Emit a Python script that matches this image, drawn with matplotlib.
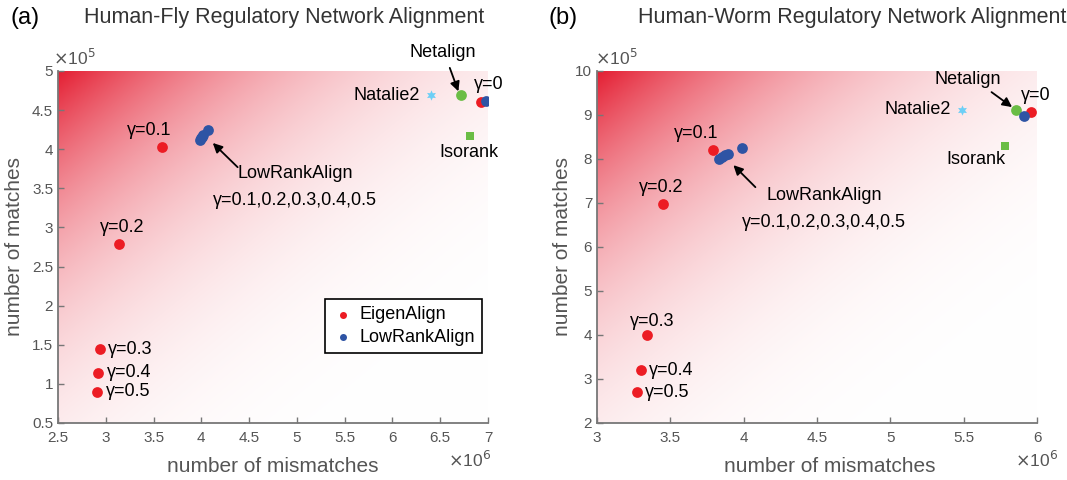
import numpy as np
import matplotlib
matplotlib.use('Agg')
import matplotlib.pyplot as plt
from matplotlib.ticker import FuncFormatter

plt.rcParams['font.family'] = ['Liberation Sans', 'DejaVu Sans']

# ---- data (mismatches in 1e6, matches in 1e5) ----
gammas = ['0', '0.1', '0.2', '0.3', '0.4', '0.5']

fly_eigen_x = [6.93, 3.59, 3.14, 2.94, 2.92, 2.91]
fly_eigen_y = [4.61, 4.03, 2.79, 1.44, 1.14, 0.90]
fly_lowrank_x = [6.98, 3.99, 4.00, 4.01, 4.02, 4.07]
fly_lowrank_y = [4.62, 4.12, 4.14, 4.16, 4.18, 4.25]
fly_netalign = (6.72, 4.69)
fly_natalie = (6.40, 4.69)
fly_isorank = (6.81, 4.17)

worm_eigen_x = [5.96, 3.79, 3.45, 3.34, 3.30, 3.27]
worm_eigen_y = [9.06, 8.21, 6.98, 4.00, 3.20, 2.70]
worm_lowrank_x = [5.91, 3.99, 3.83, 3.85, 3.87, 3.89]
worm_lowrank_y = [8.98, 8.25, 8.00, 8.04, 8.08, 8.12]
worm_netalign = (5.86, 9.12)
worm_natalie = (5.49, 9.12)
worm_isorank = (5.78, 8.30)

RED = '#ec1c24'
BLUE = '#2e54a4'
GREEN = '#6abd45'
CYAN = '#6dcff6'
GREY = '#555555'

W, H = 1067, 480
fig = plt.figure(figsize=(W / 100, H / 100), dpi=100)


def px(x0, y0, x1, y1):
    return [x0 / W, 1 - y1 / H, (x1 - x0) / W, (y1 - y0) / H]


def P(x, y):
    return (x * 1e6, y * 1e5)


def gradient(ax, xlim, ylim):
    n = 300
    xf, yf = np.meshgrid(np.linspace(0, 1, n), np.linspace(0, 1, n))
    d = xf + yf
    a = np.clip(1 - d / 2, 0, 1) ** 3.5
    img = np.ones((n, n, 3))
    red = np.array([228, 30, 50]) / 255.0
    for k in range(3):
        img[:, :, k] = 1 - a * (1 - red[k])
    ax.imshow(img, extent=(xlim[0], xlim[1], ylim[0], ylim[1]),
              aspect='auto', origin='upper', zorder=0, interpolation='bilinear')


def style(ax, xlim, ylim, xticks, yticks):
    ax.set_xlim(*xlim)
    ax.set_ylim(*ylim)
    ax.set_xticks([t * 1e6 for t in xticks])
    ax.set_yticks([t * 1e5 for t in yticks])
    ax.xaxis.set_major_formatter(FuncFormatter(lambda v, p: '%g' % round(v / 1e6, 2)))
    ax.yaxis.set_major_formatter(FuncFormatter(lambda v, p: '%g' % round(v / 1e5, 2)))
    for s in ['top', 'right']:
        ax.spines[s].set_visible(False)
    for s in ['left', 'bottom']:
        ax.spines[s].set_color('#777777')
        ax.spines[s].set_linewidth(1.3)
    ax.tick_params(direction='in', length=4, width=1, colors='#777777',
                   labelcolor=GREY, labelsize=11)
    ax.tick_params(axis='x', pad=6)


def panel(rect, xlim, ylim, xticks, yticks, ex, ey, lx, ly, net, nat, iso):
    ax = fig.add_axes(rect)
    xl = (xlim[0] * 1e6, xlim[1] * 1e6)
    yl = (ylim[0] * 1e5, ylim[1] * 1e5)
    gradient(ax, xl, yl)
    style(ax, xl, yl, xticks, yticks)
    ax.scatter([v * 1e6 for v in ex], [v * 1e5 for v in ey], s=60, color=RED,
               zorder=3, label='EigenAlign', linewidths=0)
    ax.scatter([v * 1e6 for v in lx], [v * 1e5 for v in ly], s=60, color=BLUE,
               zorder=4, label='LowRankAlign', linewidths=0)
    ax.scatter(*P(*net), s=60, color=GREEN, zorder=3, linewidths=0)
    ax.scatter(*P(*nat), s=55, color=CYAN, marker=(6, 1, 0), zorder=3, linewidths=0)
    ax.scatter(*P(*iso), s=30, color=GREEN, marker='s', zorder=3, linewidths=0)
    return ax


def lab(ax, s, xy, dx, dy, ha='center', va='center'):
    ax.annotate(s, xy, xytext=(dx, dy), textcoords='offset points',
                ha=ha, va=va, fontsize=fs)


def arrow(ax, head, tail, lw=1.3):
    ax.annotate('', P(*head), xytext=P(*tail),
                arrowprops=dict(arrowstyle='-|>', color='black', lw=lw,
                                shrinkA=0, shrinkB=0, mutation_scale=14))


fs = 13
lra = 'LowRankAlign\n\u03b3=0.1,0.2,0.3,0.4,0.5'

# ---------- (a) Human-Fly ----------
ax1 = panel(px(58, 71, 488, 423), (2.5, 7), (0.5, 5),
            [2.5, 3, 3.5, 4, 4.5, 5, 5.5, 6, 6.5, 7],
            [0.5, 1, 1.5, 2, 2.5, 3, 3.5, 4, 4.5, 5],
            fly_eigen_x, fly_eigen_y, fly_lowrank_x, fly_lowrank_y,
            fly_netalign, fly_natalie, fly_isorank)

lab(ax1, '\u03b3=' + gammas[1], P(fly_eigen_x[1], fly_eigen_y[1]), -9, 12)
lab(ax1, '\u03b3=' + gammas[2], P(fly_eigen_x[2], fly_eigen_y[2]), 2, 12)
for i in [3, 4, 5]:
    lab(ax1, '\u03b3=' + gammas[i], P(fly_eigen_x[i], fly_eigen_y[i]), 6, 0, ha='left')
lab(ax1, '\u03b3=' + gammas[0], P(fly_lowrank_x[0], fly_lowrank_y[0]), 2, 12)
ax1.text(*P(4.98, 3.80), lra, ha='center', va='top', fontsize=fs, linespacing=1.75)
arrow(ax1, (4.12, 4.08), (4.38, 3.77))
ax1.text(*P(6.53, 5.24), 'Netalign', ha='center', va='center', fontsize=fs)
arrow(ax1, (6.69, 4.74), (6.6, 5.04))
lab(ax1, 'Natalie2', P(*fly_natalie), -8, 0, ha='right')
lab(ax1, 'Isorank', P(*fly_isorank), -1, -12)

leg = ax1.legend(loc='upper right', bbox_to_anchor=(0.986, 0.352), borderaxespad=0,
                 fontsize=fs, markerscale=0.65, handletextpad=0.3, handlelength=1.2,
                 frameon=True, fancybox=False, edgecolor='black', framealpha=1,
                 borderpad=0.4, labelspacing=0.3)
leg.get_frame().set_linewidth(1.2)

# ---------- (b) Human-Worm ----------
ax2 = panel(px(597, 71, 1037, 423), (3, 6), (2, 10),
            [3, 3.5, 4, 4.5, 5, 5.5, 6],
            [2, 3, 4, 5, 6, 7, 8, 9, 10],
            worm_eigen_x, worm_eigen_y, worm_lowrank_x, worm_lowrank_y,
            worm_netalign, worm_natalie, worm_isorank)

lab(ax2, '\u03b3=' + gammas[1], P(worm_eigen_x[1], worm_eigen_y[1]), -12, 12)
lab(ax2, '\u03b3=' + gammas[2], P(worm_eigen_x[2], worm_eigen_y[2]), -1, 12)
lab(ax2, '\u03b3=' + gammas[3], P(worm_eigen_x[3], worm_eigen_y[3]), 4, 10)
for i in [4, 5]:
    lab(ax2, '\u03b3=' + gammas[i], P(worm_eigen_x[i], worm_eigen_y[i]), 6, 0, ha='left')
lab(ax2, '\u03b3=' + gammas[0], P(worm_eigen_x[0], worm_eigen_y[0]), 3, 12)
ax2.text(*P(4.55, 7.36), lra, ha='center', va='top', fontsize=fs, linespacing=1.75)
arrow(ax2, (3.93, 7.86), (4.08, 7.36))
ax2.text(*P(5.53, 9.8), 'Netalign', ha='center', va='center', fontsize=fs)
arrow(ax2, (5.83, 9.18), (5.69, 9.52))
lab(ax2, 'Natalie2', P(*worm_natalie), -8, 0, ha='right')
lab(ax2, 'Isorank', P(*worm_isorank), -21, -10)

# ---------- figure texts ----------
fig.text(10 / W, 1 - 18 / H, '(a)', fontsize=17, va='center', ha='left')
fig.text(548 / W, 1 - 18 / H, '(b)', fontsize=17, va='center', ha='left')
fig.text(284 / W, 1 - 18 / H, 'Human-Fly Regulatory Network Alignment', fontsize=15.5,
         color='#333333', va='center', ha='center')
fig.text(852 / W, 1 - 18 / H, 'Human-Worm Regulatory Network Alignment', fontsize=15.5,
         color='#333333', va='center', ha='center')

for yx, xc, ex6 in [(15, 273, 470), (562, 830, 1037)]:
    fig.text(yx / W, 1 - 247 / H, 'number of matches', rotation=90, fontsize=15,
             color=GREY, va='center', ha='center')
    fig.text(xc / W, 1 - 466 / H, 'number of mismatches', fontsize=15,
             color=GREY, va='center', ha='center')
    fig.text(ex6 / W, 1 - 460 / H, '$\\times$10$^6$', fontsize=12.5, color=GREY,
             va='center', ha='center')

fig.text(74 / W, 1 - 58 / H, '$\\times$10$^5$', fontsize=12.5, color=GREY,
         va='center', ha='center')
fig.text(616 / W, 1 - 58 / H, '$\\times$10$^5$', fontsize=12.5, color=GREY,
         va='center', ha='center')

fig.savefig('out.png', dpi=100)
